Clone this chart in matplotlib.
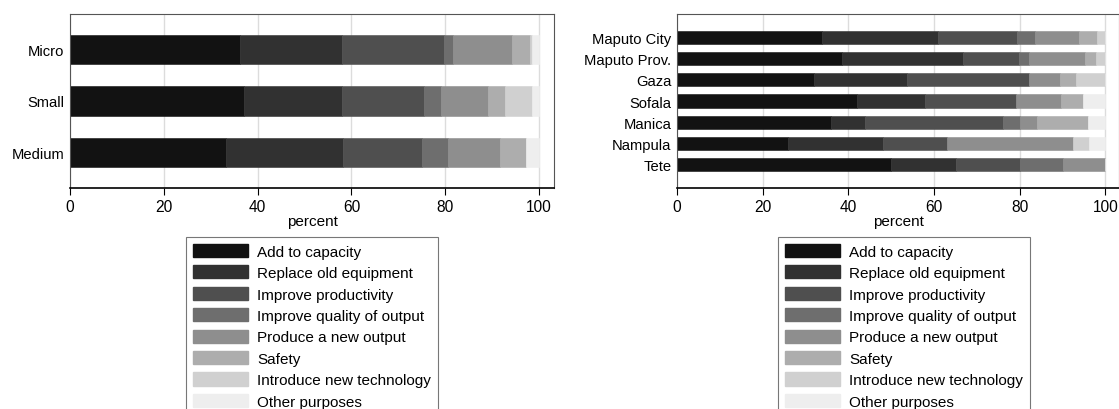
import numpy as np
import matplotlib.pyplot as plt
from matplotlib.patches import Patch

plt.rcParams['font.family'] = ['Liberation Sans', 'DejaVu Sans']

# categorias da legenda
purposes = ['Add to capacity', 'Replace old equipment', 'Improve productivity',
            'Improve quality of output', 'Produce a new output', 'Safety',
            'Introduce new technology', 'Other purposes']
colors = ['#121212', '#313131', '#4f4f4f', '#6e6e6e', '#8e8e8e', '#adadad',
          '#d0d0d0', '#eeeeee']

# painel esquerdo: tamanho da empresa (percentuais por finalidade)
sizes = ['Micro', 'Small', 'Medium']
micro = [36.3, 21.7, 21.7, 1.9, 12.7, 3.8, 0.5, 1.4]
small = [37.0, 21.0, 17.4, 3.7, 10.0, 3.6, 5.9, 1.4]
medium = [33.3, 25.0, 16.8, 5.5, 11.1, 5.5, 0.0, 2.8]

# painel direito: províncias
provinces = ['Maputo City', 'Maputo Prov.', 'Gaza', 'Sofala', 'Manica',
             'Nampula', 'Tete']
maputo_city = [33.9, 27.0, 18.5, 4.2, 10.3, 4.2, 1.9, 0.0]
maputo_prov = [38.5, 28.2, 13.1, 2.5, 12.9, 2.6, 2.2, 0.0]
gaza = [32.1, 21.6, 28.6, 0.0, 7.1, 3.8, 6.8, 0.0]
sofala = [42.0, 15.9, 21.2, 0.0, 10.6, 5.2, 0.0, 5.1]
manica = [36.0, 8.0, 32.0, 4.0, 4.0, 12.0, 0.0, 4.0]
nampula = [25.9, 22.1, 15.0, 0.0, 29.5, 0.0, 3.8, 3.7]
tete = [50.0, 15.1, 14.9, 10.1, 9.9, 0.0, 0.0, 0.0]

left_data = np.array([micro, small, medium])
right_data = np.array([maputo_city, maputo_prov, gaza, sofala, manica,
                       nampula, tete])

fig = plt.figure(figsize=(11.19, 4.10), dpi=100)
W, H = 1119, 410
ax1 = fig.add_axes([70 / W, 1 - 189 / H, 484 / W, 174 / H])
ax2 = fig.add_axes([677 / W, 1 - 189 / H, 442 / W, 174 / H])


def draw(ax, labels, data, height):
    y = np.arange(len(labels))
    left = np.zeros(len(labels))
    for j in range(data.shape[1]):
        ax.barh(y, data[:, j], left=left, height=height, color=colors[j],
                edgecolor=colors[j], linewidth=0.4, zorder=2)
        left = left + data[:, j]
    ax.set_yticks(y)
    ax.set_yticklabels(labels, fontsize=10.6)
    ax.set_xlim(0, 103.2)
    ax.set_xticks([0, 20, 40, 60, 80, 100])
    ax.tick_params(axis='x', labelsize=11.2, length=5, direction='out',
                   color='black', pad=3)
    ax.tick_params(axis='y', length=0, pad=4)
    ax.xaxis.grid(True, color='#dcdcdc', linewidth=1, zorder=0)
    ax.set_axisbelow(True)
    ax.set_xlabel('percent', fontsize=11, labelpad=0)
    for s in ['top', 'right', 'left']:
        ax.spines[s].set_color('#555555')
        ax.spines[s].set_linewidth(0.8)
    ax.spines['bottom'].set_color('black')
    ax.spines['bottom'].set_linewidth(1.2)


draw(ax1, sizes, left_data, 0.58)
ax1.set_ylim(2.69, -0.69)
draw(ax2, provinces, right_data, 0.62)
ax2.set_ylim(6 + 1.13, -1.13)

handles = [Patch(facecolor=c, edgecolor=c) for c in colors]
for cx in [312 / W, 904 / W]:
    leg = fig.legend(handles, purposes, loc='upper center',
                     bbox_to_anchor=(cx, 1 - 238 / H), fontsize=11,
                     frameon=True, fancybox=False, edgecolor='#555555',
                     handlelength=3.6, handleheight=0.95, labelspacing=0.43,
                     handletextpad=0.6, borderpad=0.45, borderaxespad=0)
    leg.get_frame().set_linewidth(0.8)

fig.savefig('out.png', dpi=100)
